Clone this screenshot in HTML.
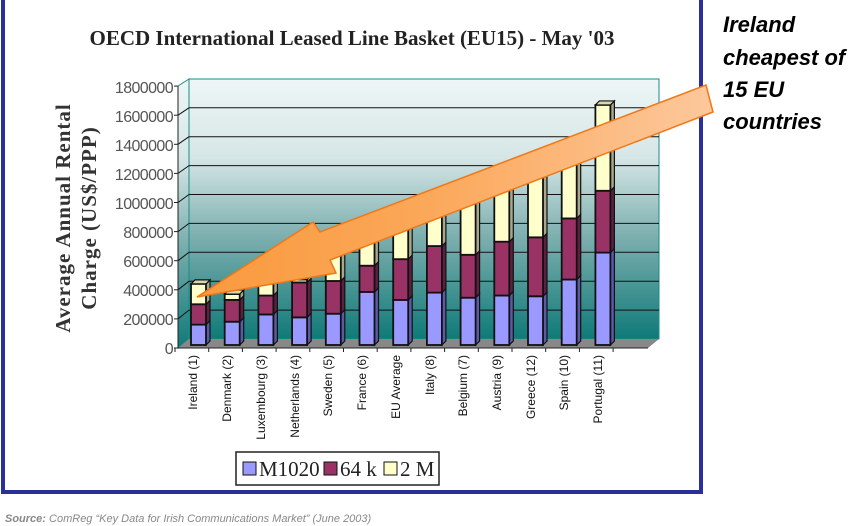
<!DOCTYPE html>
<html><head><meta charset="utf-8"><style>
html,body{margin:0;padding:0;background:#fff;width:850px;height:526px;overflow:hidden}
svg{display:block}
</style></head><body>
<svg id="s" width="850" height="526" xmlns="http://www.w3.org/2000/svg">
<defs>
<linearGradient id="wall" x1="0" y1="0" x2="0" y2="1">
<stop offset="0" stop-color="#eef6f6"/><stop offset="0.3" stop-color="#d6e6e6"/>
<stop offset="0.6" stop-color="#7fb0b0"/><stop offset="1" stop-color="#0f7a78"/>
</linearGradient>
<linearGradient id="arr" x1="197" y1="0" x2="713" y2="0" gradientUnits="userSpaceOnUse">
<stop offset="0" stop-color="#f99a3e"/><stop offset="0.45" stop-color="#fba85a"/><stop offset="1" stop-color="#fdc89c"/>
</linearGradient>
</defs>
<rect x="0" y="0" width="850" height="526" fill="#fff"/>
<rect x="3" y="-2" width="698" height="494" fill="#fff" stroke="#2a2f9a" stroke-width="4"/>
<text x="352" y="45" text-anchor="middle" font-family="Liberation Serif, serif" font-weight="bold" font-size="21" fill="#222">OECD International Leased Line Basket (EU15) - May '03</text>
<polygon points="178,348 189,339 189,79 178,86" fill="url(#wall)" stroke="#1a8a88" stroke-width="1"/>
<rect x="189" y="79" width="470" height="260" fill="url(#wall)" stroke="#1a8a88" stroke-width="1"/>
<polygon points="178,348 189,339 659,339 648,348" fill="#888"/>
<g id="grid" stroke="#111" stroke-width="1"></g>
<g id="bars"></g>
<line x1="178" y1="86" x2="178" y2="348" stroke="#222"/>
<line x1="178" y1="348" x2="648" y2="348" stroke="#222"/>
<g id="ticks" stroke="#222"></g>
<g font-family="Liberation Sans, sans-serif" font-size="16" fill="#555" text-anchor="end" letter-spacing="-0.6">
<text x="173" y="354">0</text><text x="173" y="325">200000</text><text x="173" y="296">400000</text>
<text x="173" y="267">600000</text><text x="173" y="238">800000</text><text x="173" y="209">1000000</text>
<text x="173" y="180">1200000</text><text x="173" y="151">1400000</text><text x="173" y="122">1600000</text>
<text x="173" y="93">1800000</text>
</g>
<g font-family="Liberation Serif, serif" font-weight="bold" font-size="21" fill="#333" text-anchor="middle" letter-spacing="1">
<text transform="translate(70,218) rotate(-90)">Average Annual Rental</text>
<text transform="translate(96,218) rotate(-90)">Charge (US$/PPP)</text>
</g>
<g font-family="Liberation Sans, sans-serif" font-size="12" fill="#111" text-anchor="end">
<text transform="translate(197,355) rotate(-90)">Ireland (1)</text>
<text transform="translate(231,355) rotate(-90)">Denmark (2)</text>
<text transform="translate(265,355) rotate(-90)">Luxembourg (3)</text>
<text transform="translate(299,355) rotate(-90)">Netherlands (4)</text>
<text transform="translate(332,355) rotate(-90)">Sweden (5)</text>
<text transform="translate(366,355) rotate(-90)">France (6)</text>
<text transform="translate(400,355) rotate(-90)">EU Average</text>
<text transform="translate(434,355) rotate(-90)">Italy (8)</text>
<text transform="translate(467,355) rotate(-90)">Belgium (7)</text>
<text transform="translate(501,355) rotate(-90)">Austria (9)</text>
<text transform="translate(535,355) rotate(-90)">Greece (12)</text>
<text transform="translate(568,355) rotate(-90)">Spain (10)</text>
<text transform="translate(602,355) rotate(-90)">Portugal (11)</text>
</g>
<rect x="236" y="452" width="203" height="33" fill="#fff" stroke="#222" stroke-width="1.5"/>
<g font-family="Liberation Serif, serif" font-size="21" fill="#222">
<rect x="243" y="462" width="13" height="13" fill="#9999ff" stroke="#111"/>
<text x="259" y="476">M1020</text>
<rect x="324" y="462" width="13" height="13" fill="#993366" stroke="#111"/>
<text x="340" y="476">64 k</text>
<rect x="384" y="462" width="13" height="13" fill="#ffffcc" stroke="#111"/>
<text x="400" y="476">2 M</text>
</g>
<polygon points="706,85 713,112 330,260 336,273 197,297 313,222 320,232" fill="url(#arr)" stroke="#f07818" stroke-width="1.5"/>
<g font-family="Liberation Sans, sans-serif" font-weight="bold" font-style="italic" font-size="22" fill="#000">
<text x="723" y="32">Ireland</text>
<text x="723" y="65">cheapest of</text>
<text x="723" y="97">15 EU</text>
<text x="723" y="129">countries</text>
</g>
<text x="5" y="522" font-family="Liberation Sans, sans-serif" font-style="italic" font-size="11" fill="#888"><tspan font-weight="bold">Source:</tspan> ComReg “Key Data for Irish Communications Market” (June 2003)</text>
</svg>
<script>
var NS="http://www.w3.org/2000/svg",g=document.getElementById('grid'),t=document.getElementById('ticks'),b=document.getElementById('bars');
function el(p,n,a){var e=document.createElementNS(NS,n);for(var k in a)e.setAttribute(k,a[k]);p.appendChild(e);return e;}
for(var i=1;i<=8;i++){var yb=339-i*28.9,yf=348-i*29.1;el(g,'line',{x1:189,y1:yb,x2:659,y2:yb});el(g,'line',{x1:178,y1:yf,x2:189,y2:yb});}
for(var i=0;i<=9;i++){var y=348-i*29.1;el(t,'line',{x1:174,y1:y,x2:178,y2:y});}
for(var i=0;i<14;i++){var x=175+i*33.7;el(t,'line',{x1:x,y1:348,x2:x,y2:352});}
var d=[[140,280,420],[160,310,350],[210,340,420],[190,430,450],[215,440,640],[365,545,730],[310,590,810],[360,680,900],[325,620,1000],[340,710,1060],[335,740,1170],[450,870,1300],[635,1060,1650]];
var fc=['#9999ff','#993366','#ffffcc'],sc=['#5a5aa8','#5e1f40','#a8a88a'],tc=['#7777cc','#7a2a52','#d8d8b0'];
d.forEach(function(v,i){var x=191+i*33.7,w=15,dx=4,dy=4,prev=0;
 v.forEach(function(val,j){var y0=345-prev*0.1455,y1=345-val*0.1455;
  el(b,'polygon',{points:(x+w)+','+y0+' '+(x+w+dx)+','+(y0-dy)+' '+(x+w+dx)+','+(y1-dy)+' '+(x+w)+','+y1,fill:sc[j],stroke:'#111','stroke-width':1.2});
  el(b,'rect',{x:x,y:y1,width:w,height:y0-y1,fill:fc[j],stroke:'#111','stroke-width':1.8});
  if(j==2)el(b,'polygon',{points:x+','+y1+' '+(x+dx)+','+(y1-dy)+' '+(x+w+dx)+','+(y1-dy)+' '+(x+w)+','+y1,fill:tc[j],stroke:'#111','stroke-width':1.2});
  prev=val;});
});
</script>
</body></html>
